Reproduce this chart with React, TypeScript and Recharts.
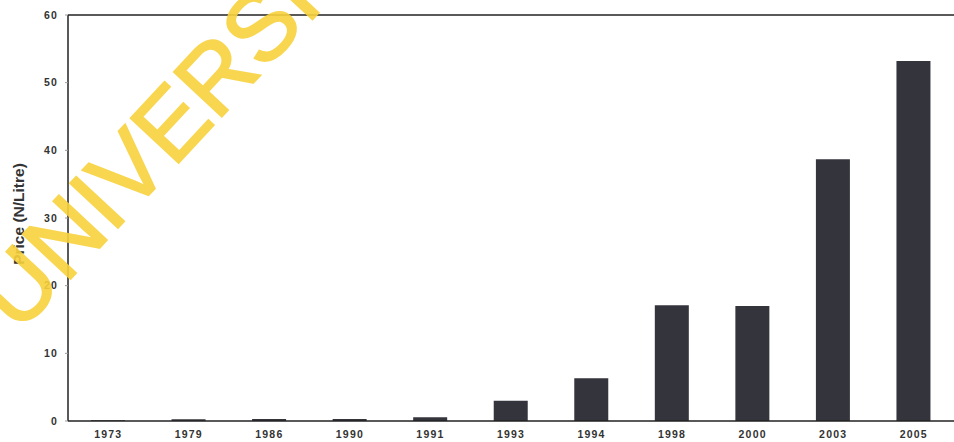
import React from 'react';
import { BarChart, Bar, XAxis, YAxis, ReferenceLine } from 'recharts';

const years = ['1973', '1979', '1986', '1990', '1991', '1993', '1994', '1998', '2000', '2003', '2005'];
const prices = [0.1, 0.25, 0.3, 0.3, 0.55, 3, 6.3, 17.1, 17, 38.7, 53.2];
const yTicks = [0, 10, 20, 30, 40, 50, 60];

const data = years.map((year, i) => ({ year, price: prices[i] }));

const font = 'Arial, "Liberation Sans", sans-serif';
const tickStyle = { fontFamily: font, fontSize: 10.5, fontWeight: 700, fill: '#333', letterSpacing: 1.2 };

export default function App() {
  return (
    <div style={{ position: 'absolute', left: 0, top: 0, width: 954, height: 442, background: '#fff', overflow: 'hidden' }}>
      <BarChart width={954} height={442} data={data} margin={{ top: 15, right: 0, bottom: 0, left: 0 }} barCategoryGap={0}>
        <XAxis
          dataKey="year"
          height={21}
          tickLine={false}
          tickSize={0}
          tickMargin={10}
          axisLine={{ stroke: '#222', strokeWidth: 1.5 }}
          tick={tickStyle}
          interval={0}
        />
        <YAxis
          width={68}
          domain={[0, 60]}
          ticks={yTicks}
          tickSize={3}
          tickMargin={7}
          tickLine={{ stroke: '#999' }}
          axisLine={{ stroke: '#222', strokeWidth: 1.5 }}
          tick={tickStyle}
          label={{
            value: 'Price (N/Litre)',
            angle: -90,
            position: 'insideLeft',
            offset: 18,
            dy: -4,
            style: { fontFamily: font, fontSize: 15.5, fontWeight: 700, fill: '#333', textAnchor: 'middle' },
          }}
        />
        <ReferenceLine y={60} stroke="#222" strokeWidth={1.5} />
        <Bar dataKey="price" fill="#34343c" barSize={34} isAnimationActive={false} />
      </BarChart>
      {/* scanned watermark */}
      <div
        style={{
          position: 'absolute',
          left: -40,
          top: 280,
          transform: 'rotate(-47deg)',
          transformOrigin: 'left top',
          fontFamily: font,
          fontSize: 95,
          color: '#f8d23c',
          opacity: 0.9,
          whiteSpace: 'nowrap',
          pointerEvents: 'none',
          lineHeight: 1,
          WebkitTextStroke: '2px #f8d23c',
        }}
      >
        UNIVERSI
      </div>
    </div>
  );
}
